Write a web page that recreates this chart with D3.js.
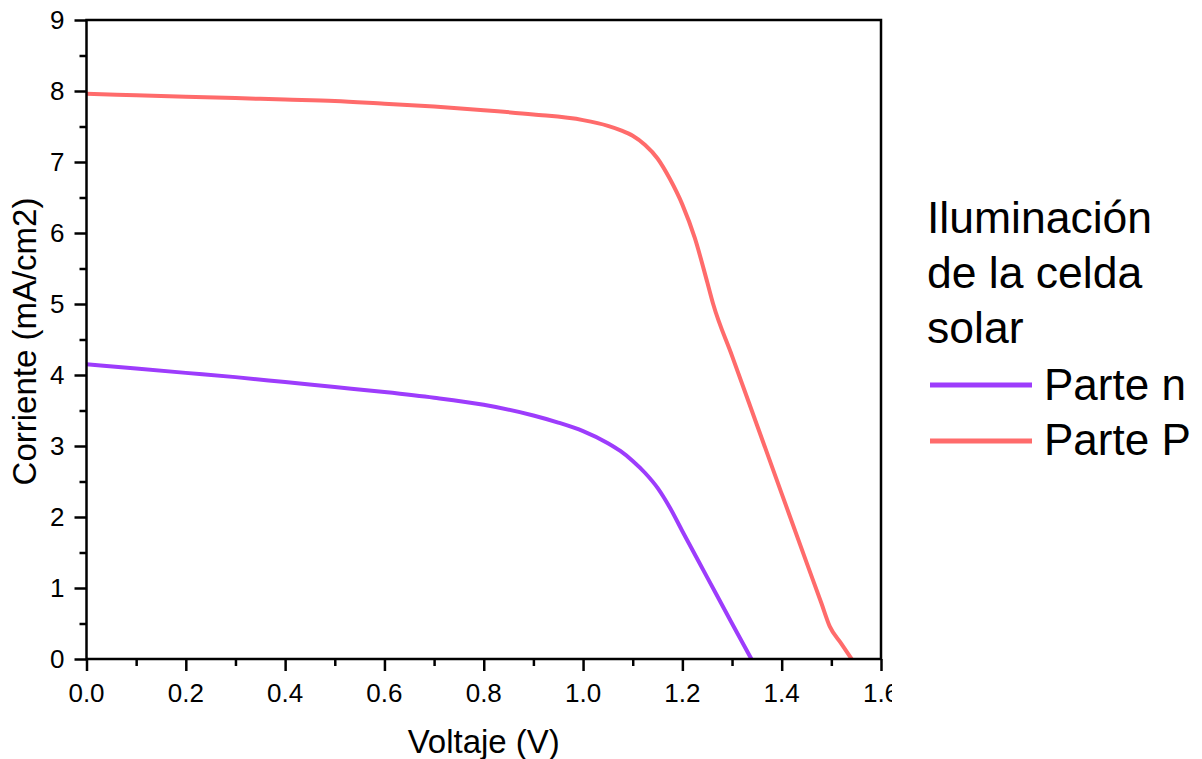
<!DOCTYPE html>
<html>
<head>
<meta charset="utf-8">
<script src="https://cdn.jsdelivr.net/npm/d3@7"></script>
<style>
  html, body { margin: 0; padding: 0; background: #fff; }
  svg { display: block; font-family: "Liberation Sans", Arial, sans-serif; }
</style>
</head>
<body>
<svg id="chart" width="1202" height="759"></svg>
<script>
// Voltage (V) and current density (mA/cm2) for the two illuminated sides
const voltN = [0, 0.1, 0.2, 0.3, 0.4, 0.5, 0.6, 0.7, 0.8, 0.9, 0.95, 1.0, 1.05, 1.075, 1.1, 1.125, 1.15, 1.175, 1.2, 1.25, 1.3, 1.339];
const currN = [4.15, 4.09, 4.03, 3.97, 3.90, 3.83, 3.76, 3.68, 3.58, 3.43, 3.33, 3.21, 3.04, 2.93, 2.79, 2.62, 2.41, 2.13, 1.80, 1.15, 0.50, 0];

const voltP = [0, 0.1, 0.2, 0.3, 0.4, 0.5, 0.6, 0.7, 0.8, 0.9, 1.0, 1.05, 1.075, 1.1, 1.125, 1.15, 1.175, 1.2, 1.225, 1.25, 1.262, 1.3, 1.35, 1.4, 1.45, 1.48, 1.497, 1.52, 1.541];
const currP = [7.96, 7.94, 7.92, 7.90, 7.88, 7.86, 7.82, 7.78, 7.73, 7.67, 7.59, 7.51, 7.45, 7.37, 7.24, 7.05, 6.76, 6.40, 5.93, 5.31, 5.00, 4.27, 3.30, 2.33, 1.36, 0.785, 0.455, 0.218, 0];

const seriesNames = ["Parte n", "Parte P"];
const seriesColors = ["#9d3cfc", "#ff6b6b"];
const legendTitle = ["Iluminación", "de la celda", "solar"];
const xTicks = [0, 0.2, 0.4, 0.6, 0.8, 1.0, 1.2, 1.4, 1.6];
const yTicks = [0, 1, 2, 3, 4, 5, 6, 7, 8, 9];

const svg = d3.select("#chart");
const plotL = 86.5, plotR = 881, plotT = 20, plotB = 659;

const x = d3.scaleLinear().domain([0, 1.6]).range([plotL, plotR]);
const y = d3.scaleLinear().domain([0, 9]).range([plotB, plotT]);

// Curves
const series = [
  { v: voltN, c: currN },
  { v: voltP, c: currP }
];
const line = d3.line()
  .x(d => x(d[0]))
  .y(d => y(d[1]))
  .curve(d3.curveMonotoneX);

series.forEach((s, i) => {
  const pts = s.v.map((v, k) => [v, s.c[k]]);
  svg.append("path")
    .datum(pts)
    .attr("fill", "none")
    .attr("stroke", seriesColors[i])
    .attr("stroke-width", 4)
    .attr("stroke-linejoin", "round")
    .attr("d", line);
});

// Frame
svg.append("rect")
  .attr("x", plotL).attr("y", plotT)
  .attr("width", plotR - plotL).attr("height", plotB - plotT)
  .attr("fill", "none").attr("stroke", "#000").attr("stroke-width", 2.5);

// Clip for the bottom tick labels (last label runs off the frame edge)
svg.append("defs").append("clipPath").attr("id", "xlabClip")
  .append("rect").attr("x", 0).attr("y", 660).attr("width", 892).attr("height", 60);

// X axis: major ticks, then labels in a clipped group
const xAxis = svg.append("g").attr("transform", `translate(0,${plotB})`);
xAxis.call(d3.axisBottom(x).tickValues(xTicks).tickFormat("").tickSize(12).tickSizeOuter(0));
xAxis.select(".domain").remove();
xAxis.selectAll(".tick line").attr("stroke", "#000").attr("stroke-width", 2.5);

const xLabelGroup = svg.append("g").attr("clip-path", "url(#xlabClip)");
xLabelGroup.selectAll("text")
  .data(xTicks)
  .join("text")
  .attr("x", d => x(d)).attr("y", plotB + 43)
  .attr("text-anchor", "middle")
  .attr("font-size", 26).attr("fill", "#000")
  .text(d => d3.format(".1f")(d));

const xMinor = d3.range(0.1, 1.6, 0.2);
svg.append("g").attr("transform", `translate(0,${plotB})`)
  .call(d3.axisBottom(x).tickValues(xMinor).tickSize(7).tickFormat(""))
  .call(g => g.select(".domain").remove())
  .selectAll(".tick line").attr("stroke", "#000").attr("stroke-width", 2.5);

// Y axis
const yAxis = svg.append("g").attr("transform", `translate(${plotL},0)`);
yAxis.call(d3.axisLeft(y).tickValues(yTicks).tickFormat(d3.format("d")).tickSize(12).tickPadding(10));
yAxis.select(".domain").remove();
yAxis.selectAll(".tick line").attr("stroke", "#000").attr("stroke-width", 2.5);
yAxis.selectAll(".tick text")
  .attr("fill", "#000").attr("font-size", 26)
  .attr("font-family", "Liberation Sans, Arial, sans-serif");

const yMinor = d3.range(0.5, 9, 1);
svg.append("g").attr("transform", `translate(${plotL},0)`)
  .call(d3.axisLeft(y).tickValues(yMinor).tickSize(7).tickFormat(""))
  .call(g => g.select(".domain").remove())
  .selectAll(".tick line").attr("stroke", "#000").attr("stroke-width", 2.5);

// Axis titles
svg.append("text")
  .attr("x", (plotL + plotR) / 2).attr("y", 753)
  .attr("text-anchor", "middle").attr("font-size", 33).attr("fill", "#000")
  .text("Voltaje (V)");

svg.append("text")
  .attr("transform", `translate(36,${(plotT + plotB) / 2 + 2}) rotate(-90)`)
  .attr("text-anchor", "middle").attr("font-size", 33).attr("fill", "#000")
  .text("Corriente (mA/cm2)");

// Legend
const legend = svg.append("g");
legendTitle.forEach((t, i) => {
  legend.append("text")
    .attr("x", 927).attr("y", 233 + i * 55)
    .attr("font-size", 44.5).attr("fill", "#000")
    .text(t);
});
seriesNames.forEach((name, i) => {
  const cy = 385 + i * 56;
  legend.append("line")
    .attr("x1", 930).attr("x2", 1032)
    .attr("y1", cy).attr("y2", cy)
    .attr("stroke", seriesColors[i]).attr("stroke-width", 5);
  legend.append("text")
    .attr("x", 1044).attr("y", 400 + i * 55)
    .attr("font-size", 44).attr("fill", "#000")
    .text(name);
});
</script>
</body>
</html>
